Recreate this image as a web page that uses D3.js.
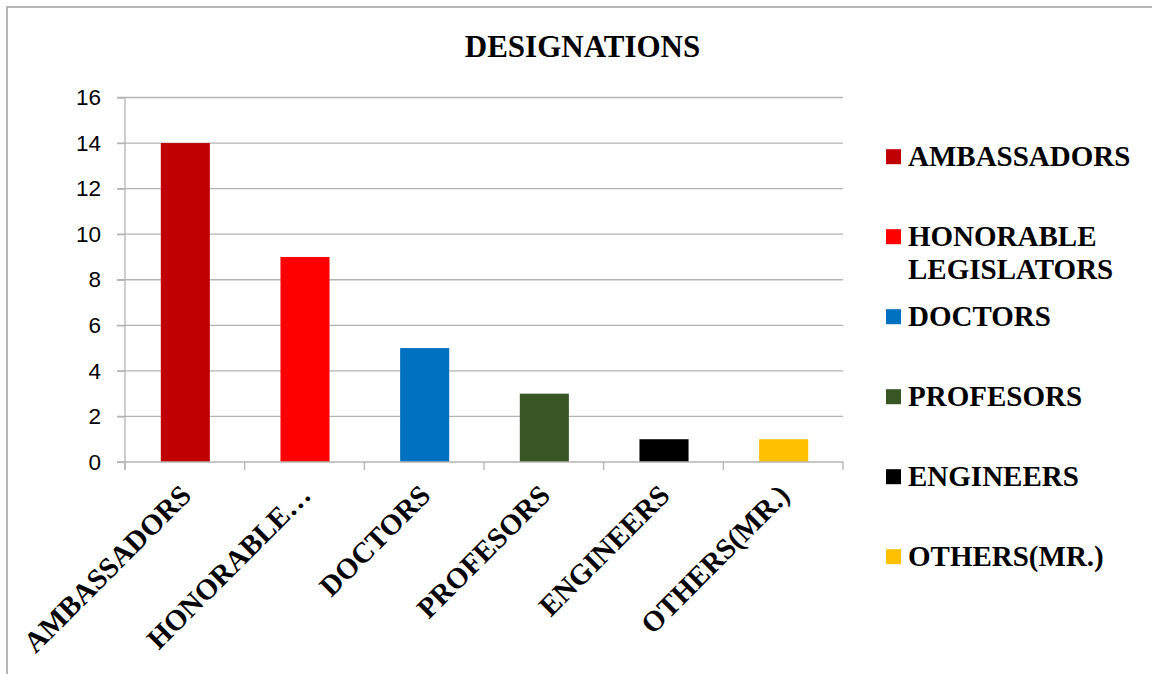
<!DOCTYPE html>
<html><head><meta charset="utf-8">
<script src="https://cdn.jsdelivr.net/npm/d3@7"></script>
<style>body{margin:0;background:#fff;}svg{display:block;}</style>
</head><body>
<svg id="c" width="1152" height="674"></svg>
<script>
const categories = ["AMBASSADORS","HONORABLE LEGISLATORS","DOCTORS","PROFESORS","ENGINEERS","OTHERS(MR.)"];
const values = [14, 9, 5, 3, 1, 1];
const colors = ["#C00000","#FF0000","#0070C0","#375623","#000000","#FFC000"];
const yTicks = [0,2,4,6,8,10,12,14,16];
const title = "DESIGNATIONS";

const svg = d3.select("#c");
const serif = "'Liberation Serif','Times New Roman',serif";
const sans = "'Liberation Sans',Arial,sans-serif";

// chart border
svg.append("rect").attr("x",7).attr("y",7).attr("width",1160).attr("height",690)
  .attr("fill","none").attr("stroke","#a0a0a0").attr("stroke-width",1.5);

const pLeft=125, pRight=843, pTop=97.5, pBottom=462;
const x = d3.scaleBand().domain(categories).range([pLeft,pRight]).paddingInner(0).paddingOuter(0);
const y = d3.scaleLinear().domain([0,16]).range([pBottom,pTop]);

// gridlines
svg.append("g").selectAll("line").data(yTicks.filter(t=>t>0)).join("line")
  .attr("x1",pLeft-8).attr("x2",pRight).attr("y1",d=>y(d)).attr("y2",d=>y(d))
  .attr("stroke","#b3b3b3").attr("stroke-width",1.3);

// y axis
const yAxis = d3.axisLeft(y).tickValues(yTicks).tickSize(8).tickPadding(16);
const gy = svg.append("g").attr("transform",`translate(${pLeft},0)`).call(yAxis);
gy.select(".domain").remove();
gy.selectAll(".tick line").attr("stroke","#b3b3b3").attr("stroke-width",1.3);
gy.selectAll(".tick text").attr("font-family",sans).attr("font-size",22.5).attr("fill","#000");
svg.append("line").attr("x1",pLeft).attr("x2",pLeft).attr("y1",pTop).attr("y2",pBottom+8)
  .attr("stroke","#b3b3b3").attr("stroke-width",1.3);

// bars
const bw = x.bandwidth()*0.41;
svg.append("g").selectAll("rect").data(values).join("rect")
  .attr("x",(d,i)=>x(categories[i])+x.bandwidth()/2-bw/2+0.5)
  .attr("width",bw)
  .attr("y",d=>y(d))
  .attr("height",d=>y(0)-y(d))
  .attr("fill",(d,i)=>colors[i]);

// x axis
const xAxis = d3.axisBottom(x).tickSize(0).tickFormat(d=>d.includes(" ")?d.split(" ")[0]+"\u2026":d);
const gx = svg.append("g").attr("transform",`translate(0,${pBottom})`).call(xAxis);
gx.select(".domain").attr("stroke","#b3b3b3").attr("stroke-width",1.5).attr("d",`M${pLeft-8},0H${pRight}`);
gx.selectAll(".tick text").attr("font-family",serif).attr("font-weight","bold").attr("font-size",29)
  .attr("fill","#000").attr("text-anchor","end").attr("dy",0).attr("y",0)
  .attr("transform","translate(8,35) rotate(-45)");
// category boundary ticks
svg.append("g").selectAll("line").data(d3.range(categories.length+1)).join("line")
  .attr("x1",i=>pLeft+i*x.step()).attr("x2",i=>pLeft+i*x.step())
  .attr("y1",pBottom).attr("y2",pBottom+8).attr("stroke","#b3b3b3").attr("stroke-width",1.3);

// title
svg.append("text").attr("x",582.5).attr("y",57).attr("text-anchor","middle")
  .attr("font-family",serif).attr("font-weight","bold").attr("font-size",31).text(title);

// legend
const lg = svg.append("g");
categories.forEach((c,i)=>{
  const by = 165.7 + i*80;
  lg.append("rect").attr("x",886).attr("y",by-16.5).attr("width",15).attr("height",15).attr("fill",colors[i]);
  const words = c.split(" ");
  words.forEach((w,j)=>{
    lg.append("text").attr("x",908).attr("y",by+j*33.5)
      .attr("font-family",serif).attr("font-weight","bold").attr("font-size",29).text(w);
  });
});
</script>
</body></html>
